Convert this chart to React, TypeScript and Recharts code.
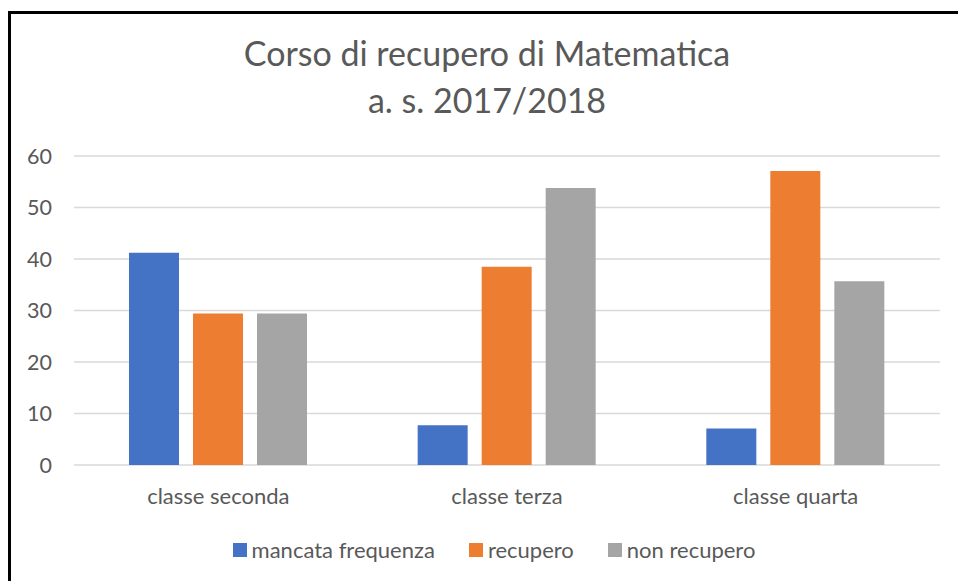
import { Bar, BarChart, CartesianGrid, XAxis, YAxis } from "recharts";

const categories = ["classe seconda", "classe terza", "classe quarta"];
const mancataFrequenza = [41.2, 7.7, 7.1];
const recupero = [29.4, 38.5, 57.1];
const nonRecupero = [29.4, 53.8, 35.7];
const yTicks = [0, 10, 20, 30, 40, 50, 60];

const series = [
  { key: "mancata", name: "mancata frequenza", color: "#4472C4" },
  { key: "recupero", name: "recupero", color: "#ED7D31" },
  { key: "non", name: "non recupero", color: "#A5A5A5" },
];

const data = categories.map((label, i) => ({
  label,
  mancata: mancataFrequenza[i],
  recupero: recupero[i],
  non: nonRecupero[i],
}));

const FONT = "Lato, 'Noto Sans', sans-serif";
const TEXT = "#595959";

export default function App() {
  return (
    <div
      style={{
        position: "absolute",
        left: 0,
        top: 0,
        width: 958,
        height: 581,
        background: "#fff",
        overflow: "hidden",
        fontFamily: FONT,
        color: TEXT,
      }}
    >
      {/* frame: only the top and left edges show in the source picture */}
      <div style={{ position: "absolute", left: 8, top: 11, width: 950, height: 3, background: "#000" }} />
      <div style={{ position: "absolute", left: 8, top: 11, width: 3, height: 570, background: "#000" }} />

      <div
        style={{
          position: "absolute",
          left: 187,
          top: 30,
          width: 600,
          textAlign: "center",
          fontSize: 34,
          lineHeight: "46.5px",
        }}
      >
        <div>Corso di recupero di Matematica</div>
        <div>a. s. 2017/2018</div>
      </div>

      <div style={{ position: "absolute", left: 0, top: 0 }}>
        <BarChart
          width={958}
          height={581}
          data={data}
          margin={{ top: 156, right: 18, left: 0, bottom: 0 }}
          barSize={50}
          barGap={14}
        >
          <CartesianGrid vertical={false} stroke="#D9D9D9" strokeWidth={1.5} />
          <XAxis
            dataKey="label"
            height={116}
            axisLine={false}
            tickLine={false}
            tickSize={0}
            tickMargin={23}
            tick={{ fontSize: 22, fill: TEXT, fontFamily: FONT }}
          />
          <YAxis
            width={74}
            domain={[0, 60]}
            ticks={yTicks}
            axisLine={false}
            tickLine={false}
            tickSize={0}
            tickMargin={22}
            tick={{ fontSize: 21.5, fill: TEXT, fontFamily: FONT }}
          />
          {series.map((s) => (
            <Bar key={s.key} dataKey={s.key} name={s.name} fill={s.color} isAnimationActive={false} />
          ))}
        </BarChart>
      </div>

      <div
        style={{
          position: "absolute",
          left: 0,
          top: 536,
          width: 988,
          display: "flex",
          justifyContent: "center",
          fontSize: 22,
          lineHeight: "28px",
        }}
      >
        {series.map((s, i) => (
          <div
            key={s.key}
            style={{ display: "flex", alignItems: "center", marginLeft: i === 0 ? 0 : 34 }}
          >
            <span
              style={{ display: "inline-block", width: 14, height: 14, background: s.color, marginRight: 5 }}
            />
            <span>{s.name}</span>
          </div>
        ))}
      </div>
    </div>
  );
}
